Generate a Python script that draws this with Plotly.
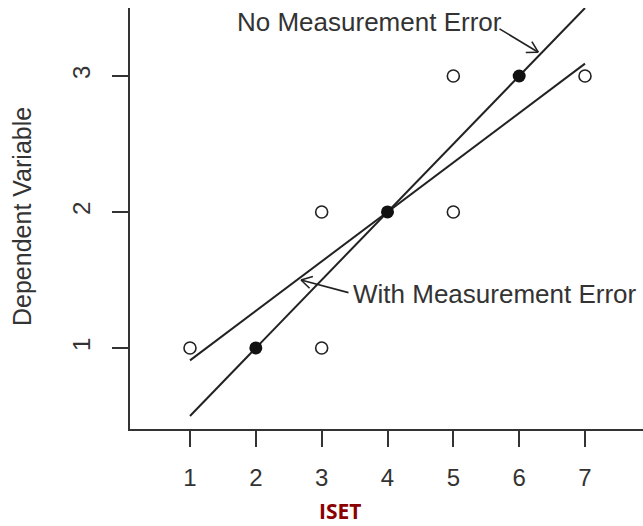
import plotly.graph_objects as go

# Data
open_x = [1, 3, 3, 5, 5, 7]
open_y = [1, 2, 1, 3, 2, 3]
filled_x = [2, 4, 6]
filled_y = [1, 2, 3]
no_err_x = [1, 7]
no_err_y = [0.5, 3.5]
with_err_x = [1, 7]
with_err_y = [0.909, 3.091]
x_ticks = [1, 2, 3, 4, 5, 6, 7]
y_ticks = [1, 2, 3]

INK = "#222222"
TXT = "#333333"
FONT = "Liberation Sans, Arial, sans-serif"

fig = go.Figure()
fig.add_trace(go.Scatter(x=no_err_x, y=no_err_y, mode="lines",
                         line=dict(color=INK, width=2), hoverinfo="skip"))
fig.add_trace(go.Scatter(x=with_err_x, y=with_err_y, mode="lines",
                         line=dict(color=INK, width=2), hoverinfo="skip"))
fig.add_trace(go.Scatter(x=open_x, y=open_y, mode="markers",
                         marker=dict(symbol="circle-open", size=12, color=INK,
                                     line=dict(width=1.6, color=INK))))
fig.add_trace(go.Scatter(x=filled_x, y=filled_y, mode="markers",
                         marker=dict(symbol="circle", size=13, color="#111111")))

anns = []
# Text labels
anns.append(dict(x=1.684, y=3.395, xref="x", yref="y", text="No Measurement Error",
                 showarrow=False, xanchor="left", yanchor="middle",
                 font=dict(family=FONT, size=26, color=TXT)))
anns.append(dict(x=3.446, y=1.40, xref="x", yref="y", text="With Measurement Error",
                 showarrow=False, xanchor="left", yanchor="middle",
                 font=dict(family=FONT, size=26, color=TXT)))

# Arrow shafts and open V heads
def shaft(tx, ty, hx, hy):
    return dict(x=hx, y=hy, ax=tx, ay=ty, xref="x", yref="y", axref="x", ayref="y",
                text="", showarrow=True, arrowhead=0, arrowwidth=1.6, arrowcolor=INK,
                standoff=0, startstandoff=0)

def barb(hx, hy, dx, dy):
    return dict(x=hx, y=hy, ax=dx, ay=dy, xref="x", yref="y",
                text="", showarrow=True, arrowhead=0, arrowwidth=1.6, arrowcolor=INK,
                standoff=0, startstandoff=0)

h1 = (6.29, 3.175)
anns.append(shaft(5.679, 3.353, *h1))
anns.append(barb(*h1, -7.3, -12.0))
anns.append(barb(*h1, -14.0, 0.3))

h2 = (2.686, 1.50)
anns.append(shaft(3.43, 1.404, *h2))
anns.append(barb(*h2, 10.1, 9.7))
anns.append(barb(*h2, 13.4, -3.9))

# Axis titles
anns.append(dict(x=-0.2105, y=0.5036, xref="paper", yref="paper", text="Dependent Variable",
                 showarrow=False, textangle=-90, xanchor="center", yanchor="middle",
                 font=dict(family=FONT, size=25, color=TXT)))
anns.append(dict(x=0.409, y=-0.195, xref="paper", yref="paper", text="<b>ISET</b>",
                 showarrow=False, xanchor="center", yanchor="middle",
                 font=dict(family="Open Sans, Noto Sans, sans-serif", size=21, color="#8B0000")))

fig.update_layout(
    width=643, height=526,
    margin=dict(l=130, r=0, t=8, b=97),
    plot_bgcolor="white", paper_bgcolor="white",
    showlegend=False,
    annotations=anns,
    xaxis=dict(range=[0.0886, 7.881], tickvals=x_ticks, showgrid=False, zeroline=False,
               showline=True, linecolor=TXT, linewidth=2,
               ticks="outside", ticklen=16, tickwidth=2, tickcolor=TXT,
               tickfont=dict(family=FONT, size=24, color=TXT), ticklabelstandoff=10),
    yaxis=dict(range=[0.404, 3.5], tickvals=y_ticks, showgrid=False, zeroline=False,
               showline=True, linecolor=TXT, linewidth=2,
               ticks="outside", ticklen=16, tickwidth=2, tickcolor=TXT, tickangle=-90,
               tickfont=dict(family=FONT, size=24, color=TXT), ticklabelstandoff=12),
)

fig.write_html("out.html", config={"displayModeBar": False},
               post_script="document.body.style.margin='0';document.body.style.overflow='hidden';")
